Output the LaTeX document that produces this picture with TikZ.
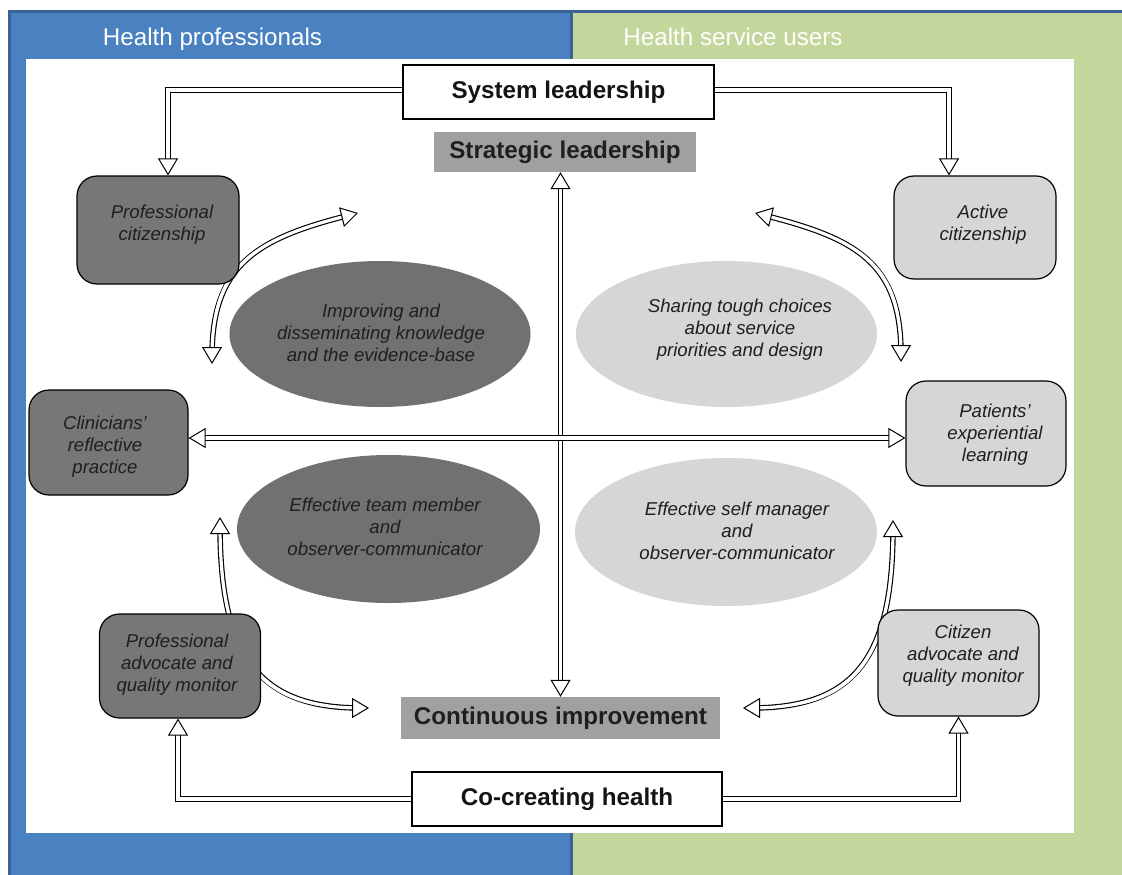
\documentclass[tikz,border=0pt]{standalone}
\usepackage{fontspec}
\setmainfont{Liberation Sans}
\usetikzlibrary{arrows.meta,shapes.geometric}
\definecolor{blueP}{RGB}{74,129,192}
\definecolor{blueD}{RGB}{58,98,148}
\definecolor{greenP}{RGB}{195,214,155}
\definecolor{darkF}{RGB}{119,119,119}
\definecolor{darkE}{RGB}{113,113,113}
\definecolor{lightF}{RGB}{214,214,214}
\definecolor{labF}{RGB}{160,160,160}
\definecolor{txt}{RGB}{30,30,36}
\newcommand\myit{\fontsize{18.6}{22}\selectfont\itshape}
\newcommand\mybd{\fontsize{24.2}{29}\selectfont\bfseries}
\newcommand\myhd{\fontsize{24.2}{29}\selectfont}
\tikzset{
  Htip/.tip={Triangle[open, fill=white, color=black, length=17pt, width=20pt, line width=1pt]},
  dline/.style={draw=black, double=white, double distance=3.2pt, line width=1.15pt},
  oneway/.style={draw=white, line width=1pt, -Htip, preaction={dline, -, shorten >=8pt}},
  twoway/.style={draw=white, line width=1pt, Htip-Htip, preaction={dline, -, shorten >=8pt, shorten <=8pt}},
  rbox/.style={draw=black, line width=1.2pt, rounded corners=20pt, inner sep=0pt},
  darkbox/.style={rbox, fill=darkF},
  lightbox/.style={rbox, fill=lightF},
  ell/.style={ellipse, inner sep=0pt},
  etxt/.style={align=center, font=\myit, text=txt, inner sep=0pt},
  labbox/.style={fill=labF, inner sep=0pt, font=\mybd, text=black!88},
  wbox/.style={draw=black, line width=1.2pt, fill=white, inner sep=0pt, font=\mybd, text=black!92},
  hdr/.style={font=\myhd, text=white, inner sep=0pt}
}
\begin{document}
\begin{tikzpicture}[x=1pt, y=-1pt]
\useasboundingbox (0,0) rectangle (1122,875);
% panels
\fill[greenP] (572,10) rectangle (1122,875);
\fill[blueP] (8,10) rectangle (572,875);
\draw[blueD, line width=3pt] (9.5,875) -- (9.5,11.5) -- (1122,11.5);
\draw[blueD, line width=2.5pt] (571.5,11.5) -- (571.5,875);
\fill[white] (26,59) rectangle (1074,833);
\node[hdr, anchor=base] (h1) at (212.5,46) {Health professionals};
\node[hdr, anchor=base] (h2) at (733,46) {Health service users};
% ellipses
\node[ell, fill=darkE, minimum width=301pt, minimum height=146pt] (e1) at (380,334) {};
\node[ell, fill=lightF, minimum width=301pt, minimum height=146pt] (e2) at (726.5,334) {};
\node[ell, fill=darkE, minimum width=303pt, minimum height=148pt] (e3) at (388.5,529) {};
\node[ell, fill=lightF, minimum width=302pt, minimum height=148pt] (e4) at (726,532) {};
\node[etxt] (t1) at (381,333) {Improving and\\disseminating knowledge\\and the evidence-base};
\node[etxt] (t2) at (740,330) {Sharing tough choices\\about service\\priorities and design};
\node[etxt] (t3) at (385,527) {Effective team member\\and\\observer-communicator};
\node[etxt] (t4) at (737,531) {Effective self manager\\and\\observer-communicator};
% curved connectors
\coordinate (tlA) at (212,364);
\coordinate (tlB) at (358,213);
\coordinate (trA) at (901,362);
\coordinate (trB) at (755,213);
\coordinate (blA) at (220,517);
\coordinate (blB) at (369,708);
\coordinate (brA) at (893,520);
\coordinate (brB) at (743,708);
\draw[twoway] (tlA) .. controls +(0,-100) and +(-100,25) .. (tlB);
\draw[twoway] (trA) .. controls +(0,-100) and +(100,25) .. (trB);
\draw[twoway] (blA) .. controls +(0,140) and +(-110,0) .. (blB);
\draw[twoway] (brA) .. controls +(0,140) and +(110,0) .. (brB);
% boxes
\node[darkbox, minimum width=162pt, minimum height=108pt] (profcit) at (158,230) {};
\node[darkbox, minimum width=159pt, minimum height=105pt] (clin) at (108.5,442.5) {};
\node[darkbox, minimum width=161pt, minimum height=104pt] (profadv) at (180,666) {};
\node[lightbox, minimum width=162pt, minimum height=103pt] (activecit) at (975,227.5) {};
\node[lightbox, minimum width=160pt, minimum height=105pt] (pat) at (986,433.5) {};
\node[lightbox, minimum width=161pt, minimum height=106pt] (citadv) at (958.5,663) {};
\node[etxt] (pct) at (162,225) {Professional\\citizenship};
\node[etxt] (clt) at (105,447) {Clinicians’\\reflective\\practice};
\node[etxt] (pat2) at (177,665) {Professional\\advocate and\\quality monitor};
\node[etxt] (act) at (983,225) {Active\\citizenship};
\node[etxt] (ptt) at (995,435) {Patients’\\experiential\\learning};
\node[etxt] (cat) at (963,656) {Citizen\\advocate and\\quality monitor};
\node[labbox, minimum width=262pt, minimum height=40pt] (strat) at (565,152) {Strategic leadership};
\node[labbox, minimum width=319pt, minimum height=42pt] (cont) at (560.5,718) {Continuous improvement};
\node[wbox, minimum width=311pt, minimum height=54pt] (syslead) at (558.5,92) {System leadership};
\node[wbox, minimum width=310pt, minimum height=54pt] (cocreate) at (567,799) {Co-creating health};
% straight connectors
\coordinate (hy) at (0,438);
\draw[oneway] ([yshift=2pt]syslead.west) -| ([xshift=10pt]profcit.north);
\draw[oneway] ([yshift=2pt]syslead.east) -| ([xshift=-26pt]activecit.north);
\draw[oneway] (cocreate.west) -| ([xshift=-2pt]profadv.south);
\draw[oneway] (cocreate.east) -| (citadv.south);
\draw[twoway] (cont.north |- strat.south) -- (cont.north);
\draw[twoway] (clin.east |- hy) -- (pat.west |- hy);
\end{tikzpicture}
\end{document}
